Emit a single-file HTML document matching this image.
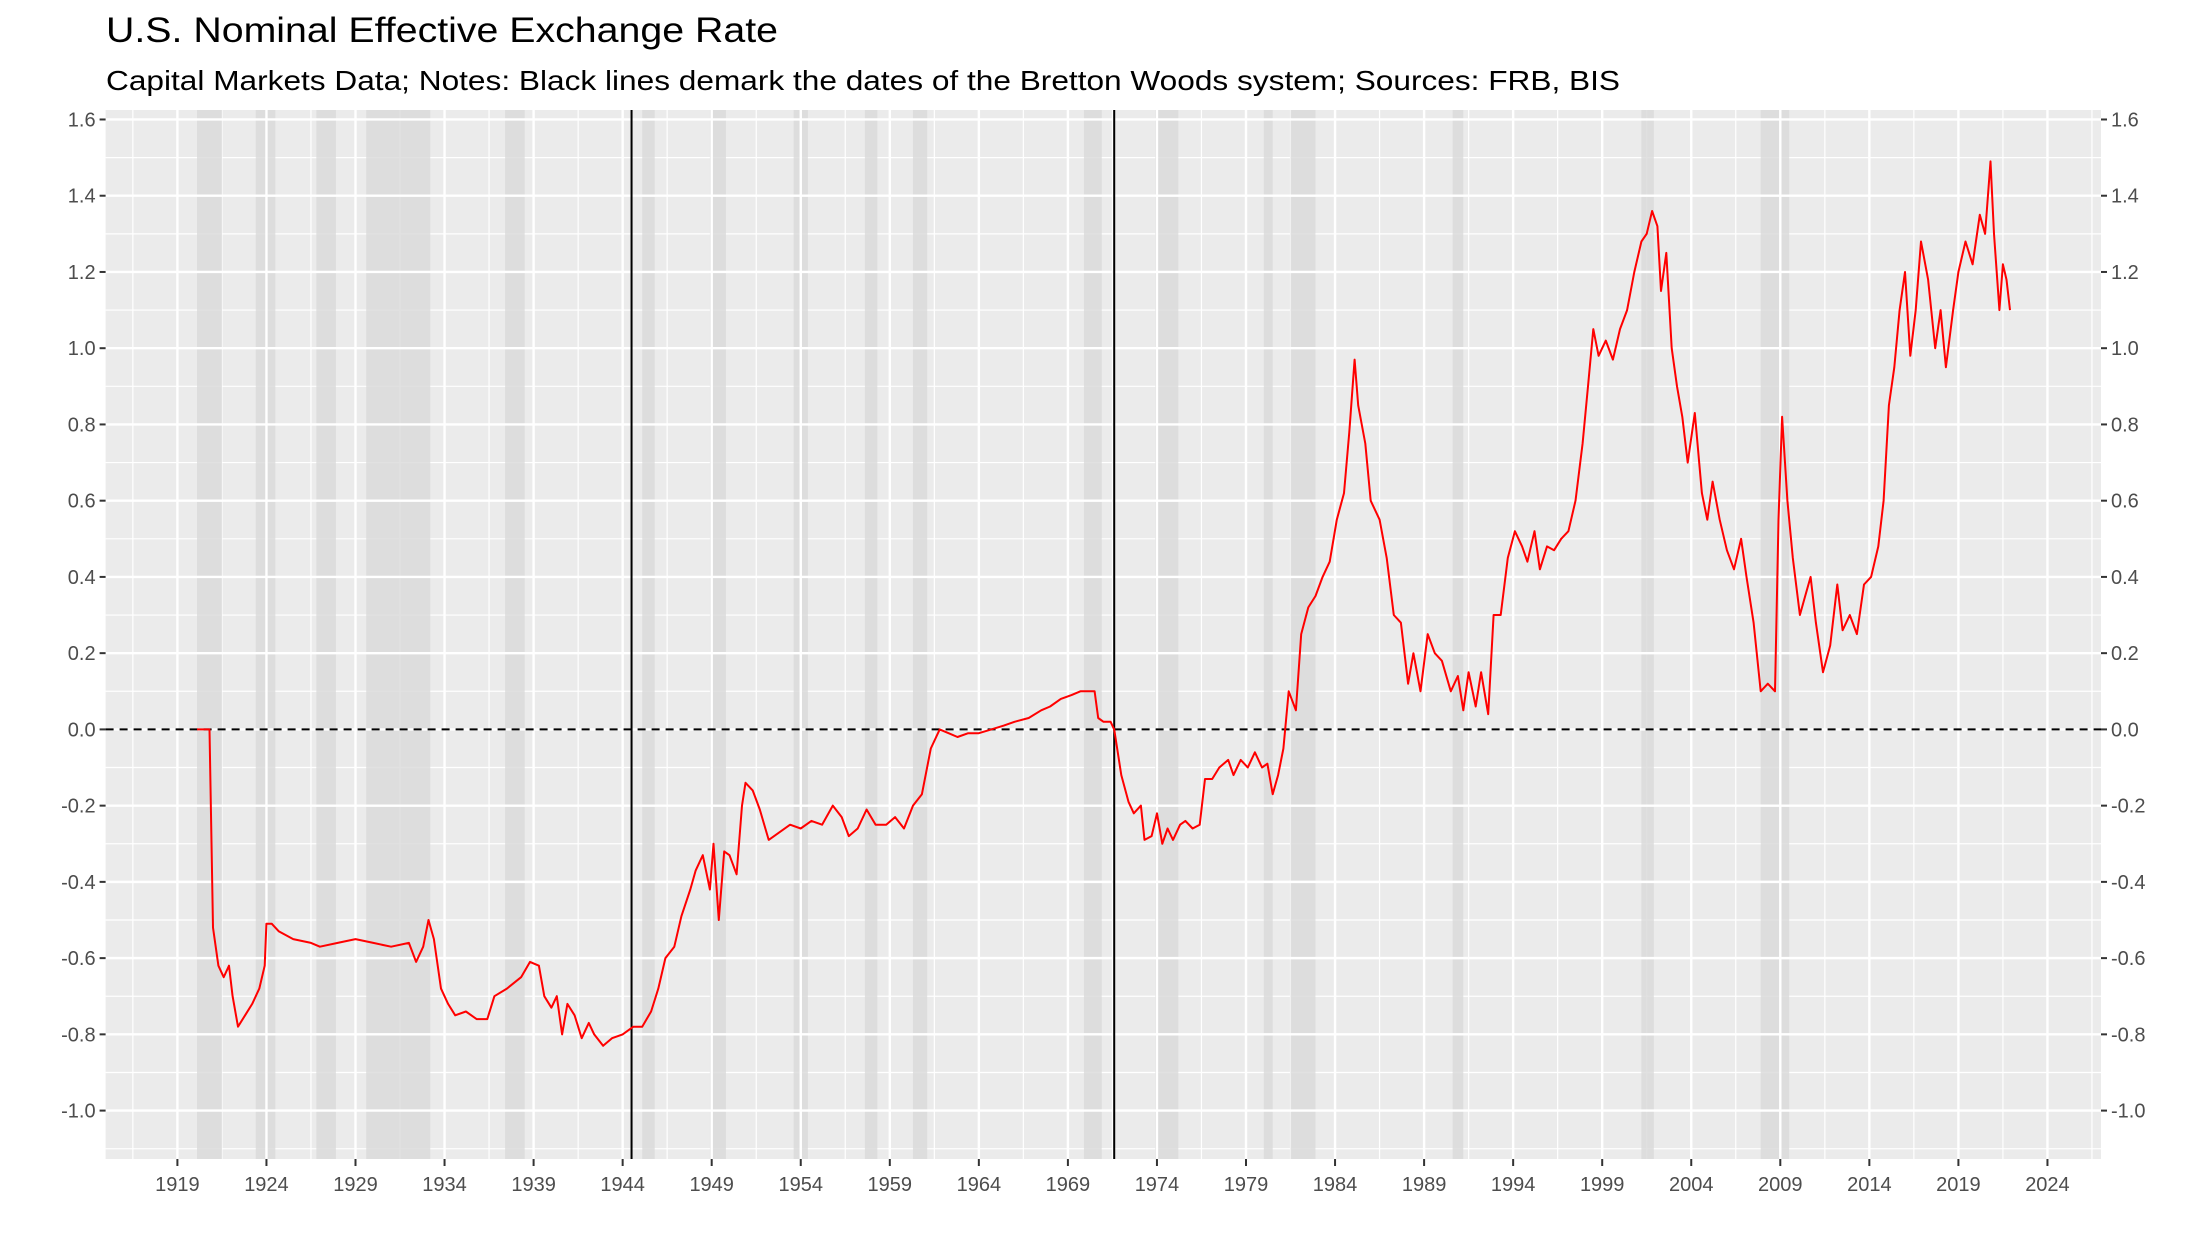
<!DOCTYPE html>
<html><head><meta charset="utf-8"><style>
html,body{margin:0;padding:0;background:#fff;}
svg{display:block;font-family:"Liberation Sans",Arial,sans-serif;}
</style></head><body>
<svg id="chart" width="2208" height="1248" viewBox="0 0 2208 1248" xmlns="http://www.w3.org/2000/svg">
<text x="106" y="42" font-size="35" fill="#000" textLength="672" lengthAdjust="spacingAndGlyphs">U.S. Nominal Effective Exchange Rate</text>
<text x="106" y="90" font-size="28" fill="#000" textLength="1514" lengthAdjust="spacingAndGlyphs">Capital Markets Data; Notes: Black lines demark the dates of the Bretton Woods system; Sources: FRB, BIS</text>
<g id="plot"></g>
</svg>
<script>
const recStart=[1920.1,1923.4,1926.8,1929.6,1937.4,1945.1,1948.9,1953.6,1957.6,1960.3,1969.9,1973.9,1980.0,1981.5,1990.6,2001.2,2007.9];
const recEnd=[1921.5,1924.5,1927.9,1933.2,1938.5,1945.8,1949.8,1954.4,1958.3,1961.1,1970.9,1975.2,1980.5,1982.9,1991.2,2001.9,2009.5];
const bwDates=[1944.5,1971.6];
const xTicks=[1919,1924,1929,1934,1939,1944,1949,1954,1959,1964,1969,1974,1979,1984,1989,1994,1999,2004,2009,2014,2019,2024];
const yTicks=[1.6,1.4,1.2,1.0,0.8,0.6,0.4,0.2,0.0,-0.2,-0.4,-0.6,-0.8,-1.0];
const years=[1920.1,1920.8,1921.0,1921.3,1921.6,1921.9,1922.1,1922.4,1922.8,1923.2,1923.6,1923.9,1924.0,1924.3,1924.7,1925.5,1926.5,1927.0,1928,1929,1930,1931,1932,1932.4,1932.8,1933.1,1933.4,1933.8,1934.2,1934.6,1935.2,1935.8,1936.4,1936.8,1937.5,1938.3,1938.8,1939.3,1939.6,1940.0,1940.3,1940.6,1940.9,1941.3,1941.7,1942.1,1942.4,1942.9,1943.4,1944.0,1944.6,1945.1,1945.6,1946.0,1946.4,1946.9,1947.3,1947.8,1948.1,1948.5,1948.9,1949.1,1949.4,1949.7,1950.0,1950.4,1950.7,1950.9,1951.3,1951.7,1952.2,1952.8,1953.4,1954,1954.6,1955.2,1955.8,1956.3,1956.7,1957.2,1957.7,1958.2,1958.8,1959.3,1959.8,1960.3,1960.8,1961.3,1961.8,1962.3,1962.8,1963.4,1964,1964.7,1965.4,1966.0,1966.8,1967.5,1968.0,1968.6,1969.2,1969.7,1970.2,1970.5,1970.7,1971.0,1971.4,1971.6,1972.0,1972.4,1972.7,1973.1,1973.3,1973.7,1974.0,1974.3,1974.6,1974.9,1975.3,1975.6,1976.0,1976.4,1976.7,1977.1,1977.5,1978.0,1978.3,1978.7,1979.1,1979.5,1979.9,1980.2,1980.5,1980.8,1981.1,1981.4,1981.8,1982.1,1982.5,1982.9,1983.3,1983.7,1984.1,1984.5,1984.8,1985.1,1985.3,1985.7,1986.0,1986.5,1986.9,1987.3,1987.7,1988.1,1988.4,1988.8,1989.2,1989.6,1990.0,1990.5,1990.9,1991.2,1991.5,1991.9,1992.2,1992.6,1992.9,1993.3,1993.7,1994.1,1994.5,1994.8,1995.2,1995.5,1995.9,1996.3,1996.7,1997.1,1997.5,1997.9,1998.2,1998.5,1998.8,1999.2,1999.6,2000.0,2000.4,2000.8,2001.2,2001.5,2001.8,2002.1,2002.3,2002.6,2002.9,2003.2,2003.5,2003.8,2004.2,2004.6,2004.9,2005.2,2005.6,2006.0,2006.4,2006.8,2007.1,2007.5,2007.9,2008.3,2008.7,2008.9,2009.1,2009.4,2009.7,2010.1,2010.4,2010.7,2011.0,2011.4,2011.8,2012.2,2012.5,2012.9,2013.3,2013.7,2014.1,2014.5,2014.8,2015.1,2015.4,2015.7,2016.0,2016.3,2016.6,2016.9,2017.3,2017.7,2018.0,2018.3,2018.7,2019.0,2019.4,2019.8,2020.2,2020.5,2020.8,2021.0,2021.3,2021.5,2021.7,2021.9];
const values=[0.0,0.0,-0.52,-0.62,-0.65,-0.62,-0.7,-0.78,-0.75,-0.72,-0.68,-0.62,-0.51,-0.51,-0.53,-0.55,-0.56,-0.57,-0.56,-0.55,-0.56,-0.57,-0.56,-0.61,-0.57,-0.50,-0.55,-0.68,-0.72,-0.75,-0.74,-0.76,-0.76,-0.70,-0.68,-0.65,-0.61,-0.62,-0.70,-0.73,-0.70,-0.80,-0.72,-0.75,-0.81,-0.77,-0.80,-0.83,-0.81,-0.80,-0.78,-0.78,-0.74,-0.68,-0.60,-0.57,-0.49,-0.42,-0.37,-0.33,-0.42,-0.30,-0.50,-0.32,-0.33,-0.38,-0.20,-0.14,-0.16,-0.21,-0.29,-0.27,-0.25,-0.26,-0.24,-0.25,-0.20,-0.23,-0.28,-0.26,-0.21,-0.25,-0.25,-0.23,-0.26,-0.20,-0.17,-0.05,0.00,-0.01,-0.02,-0.01,-0.01,0.00,0.01,0.02,0.03,0.05,0.06,0.08,0.09,0.10,0.10,0.10,0.03,0.02,0.02,0.0,-0.12,-0.19,-0.22,-0.20,-0.29,-0.28,-0.22,-0.30,-0.26,-0.29,-0.25,-0.24,-0.26,-0.25,-0.13,-0.13,-0.10,-0.08,-0.12,-0.08,-0.10,-0.06,-0.10,-0.09,-0.17,-0.12,-0.05,0.10,0.05,0.25,0.32,0.35,0.40,0.44,0.55,0.62,0.78,0.97,0.85,0.75,0.60,0.55,0.45,0.30,0.28,0.12,0.20,0.10,0.25,0.20,0.18,0.10,0.14,0.05,0.15,0.06,0.15,0.04,0.30,0.30,0.45,0.52,0.48,0.44,0.52,0.42,0.48,0.47,0.50,0.52,0.60,0.75,0.90,1.05,0.98,1.02,0.97,1.05,1.10,1.20,1.28,1.30,1.36,1.32,1.15,1.25,1.00,0.90,0.82,0.70,0.83,0.62,0.55,0.65,0.55,0.47,0.42,0.50,0.40,0.28,0.10,0.12,0.10,0.55,0.82,0.60,0.45,0.30,0.35,0.40,0.28,0.15,0.22,0.38,0.26,0.30,0.25,0.38,0.40,0.48,0.60,0.85,0.95,1.10,1.20,0.98,1.10,1.28,1.18,1.00,1.10,0.95,1.10,1.20,1.28,1.22,1.35,1.30,1.49,1.30,1.10,1.22,1.18,1.10];

const NS='http://www.w3.org/2000/svg';
const PL=105.6,PR=2101,PT=110,PB=1159;
function xs(yr){return 177.4+(yr-1919)*17.81;}
function ys(v){return 729.4-v*381.2;}
const g=document.getElementById('plot');
function mk(tag,attrs,parent){const e=document.createElementNS(NS,tag);for(const k in attrs)e.setAttribute(k,attrs[k]);(parent||g).appendChild(e);return e;}

const bg=mk('rect',{x:PL,y:PT,width:PR-PL,height:PB-PT,fill:'#ebebeb'});


for(let v=-1.1;v<=1.61;v+=0.2){const yy=ys(v);if(yy<PT||yy>PB)continue;const l=mk('line',{x1:PL,x2:PR,y1:yy,y2:yy,stroke:'#fff','stroke-width':1.2});}
for(let yr=1916.5;yr<=2027;yr+=5){const xx=xs(yr);if(xx<PL||xx>PR)continue;const l=mk('line',{x1:xx,x2:xx,y1:PT,y2:PB,stroke:'#fff','stroke-width':1.2});}
for(let i=0;i<recStart.length;i++){const r=mk('rect',{x:xs(recStart[i]),y:PT,width:xs(recEnd[i])-xs(recStart[i]),height:PB-PT,fill:'#d9d9d9','fill-opacity':0.8});}
yTicks.forEach(v=>{const l=mk('line',{x1:PL,x2:PR,y1:ys(v),y2:ys(v),stroke:'#fff','stroke-width':2.4});});
xTicks.forEach(t=>{const l=mk('line',{x1:xs(t),x2:xs(t),y1:PT,y2:PB,stroke:'#fff','stroke-width':2.4});});
const z=mk('line',{x1:PL,x2:PR,y1:ys(0),y2:ys(0),stroke:'#000','stroke-width':2,'stroke-dasharray':'8,6'});


bwDates.forEach(d=>{const l=mk('line',{x1:xs(d),x2:xs(d),y1:PT,y2:PB,stroke:'#000','stroke-width':2});});
let dstr='';
for(let i=0;i<years.length;i++){dstr+=(i?'L':'M')+xs(years[i]).toFixed(1)+','+ys(values[i]).toFixed(1);}
const p=mk('path',{d:dstr,fill:'none',stroke:'#ff0000','stroke-width':2,'stroke-linejoin':'round'});


yTicks.forEach(v=>{
  const yy=ys(v);
  mk('line',{x1:PL-6,x2:PL,y1:yy,y2:yy,stroke:'#333','stroke-width':2});
  mk('line',{x1:PR,x2:PR+6,y1:yy,y2:yy,stroke:'#333','stroke-width':2});
  const t1=mk('text',{x:PL-10,y:yy+7,'font-size':20,fill:'#4d4d4d','text-anchor':'end'});t1.textContent=v.toFixed(1);
  
  
  const t2=mk('text',{x:PR+10,y:yy+7,'font-size':20,fill:'#4d4d4d','text-anchor':'start'});t2.textContent=v.toFixed(1);
  
  
});
xTicks.forEach(t=>{
  const xx=xs(t);
  mk('line',{x1:xx,x2:xx,y1:PB,y2:PB+7,stroke:'#333','stroke-width':2});
  const tl=mk('text',{x:xx,y:PB+32,'font-size':20,fill:'#4d4d4d','text-anchor':'middle'});tl.textContent=String(t);
  
  
});
</script>
</body></html>
